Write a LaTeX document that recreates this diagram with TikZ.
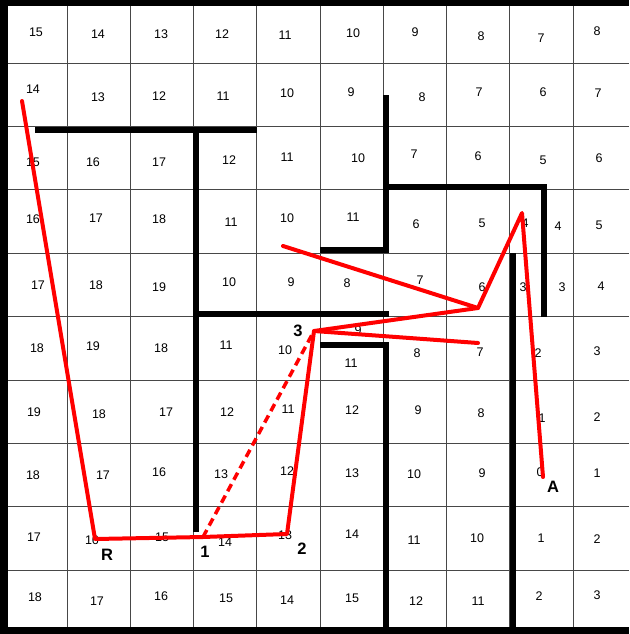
\documentclass[tikz,border=0pt]{standalone}
\usepackage{fontspec}
\setmainfont{Liberation Sans}
\begin{document}
\begin{tikzpicture}[x=1pt,y=-1pt,
  num/.style={inner sep=0pt,font=\fontsize{12.5}{13}\selectfont},
  lbl/.style={inner sep=0pt,font=\fontsize{16.5}{17}\selectfont\bfseries},
  gridline/.style={draw=black!72,line width=1pt},
  wall/.style={draw=black,line width=6pt,line join=miter},
  route/.style={draw=red,line width=4pt,line cap=round,line join=round},
  guess/.style={draw=red,line width=3.5pt,dash pattern=on 8pt off 5pt}]
\useasboundingbox (0,0) rectangle (629,634);
\begin{scope}
\clip (0,0) rectangle (629,634);
\fill[white] (0,0) rectangle (629,634);
% grid
\foreach \i in {1,...,9} {
  \draw[gridline] ({3.75+63.25*\i},0) -- ({3.75+63.25*\i},634);
  \draw[gridline] (0,{63.4*\i-0.3}) -- (629,{63.4*\i-0.3});
}
% numbers
\foreach \x/\y/\t [count=\k] in {
 36/32/15, 98/34/14, 161/34/13, 222/34/12, 285/35/11, 353/33/10, 415/32/9, 481/36/8, 541/38/7, 597/31/8,
 33/89/14, 98/97/13, 159/96/12, 223/96/11, 287/93/10, 351/92/9, 422/97/8, 479/92/7, 543/92/6, 598/93/7,
 33/162/15, 93/162/16, 159/162/17, 229/160/12, 287/157/11, 358/158/10, 414/154/7, 478/156/6, 543/160/5, 599/158/6,
 33/219/16, 96/218/17, 159/219/18, 231/222/11, 287/218/10, 353/217/11, 416/224/6, 482/223/5, 525/223/4, 558/226/4, 599/225/5,
 38/285/17, 96/285/18, 159/287/19, 229/282/10, 291/282/9, 347/283/8, 420/280/7, 482/287/6, 523/287/3, 562/287/3, 601/286/4,
 37/348/18, 93/346/19, 161/348/18, 226/345/11, 285/350/10, 358/330/9, 351/363/11, 417/353/8, 480/352/7, 538/353/2, 597/351/3,
 34/412/19, 99/414/18, 166/412/17, 227/412/12, 288/409/11, 352/410/12, 418/410/9, 481/413/8, 542/418/1, 597/417/2,
 33/475/18, 103/475/17, 159/472/16, 221/474/13, 287/471/12, 352/473/13, 414/474/10, 482/473/9, 540/472/0, 597/473/1,
 34/537/17, 92/540/16, 162/537/15, 225/542/14, 285/535/13, 352/534/14, 414/540/11, 477/538/10, 541/538/1, 597/539/2,
 35/597/18, 97/601/17, 161/596/16, 226/598/15, 287/600/14, 352/598/15, 416/601/12, 478/601/11, 539/596/2, 597/595/3}
  \node[num] (n\k) at (\x,\y) {\t};
% outer border
\fill[black] (0,0) rectangle (629,6);
\fill[black] (0,0) rectangle (8,634);
\fill[black] (0,627) rectangle (629,634);
% walls
\draw[wall] (35,130) -- (257,130);
\draw[wall] (196.3,127) -- (196.3,532);
\draw[wall] (196.3,313.5) -- (388.7,313.5);
\draw[wall] (320,344.5) -- (385.7,344.5) -- (385.7,634);
\draw[wall] (386,95) -- (386,250) -- (320,250);
\draw[wall] (383,187) -- (544,187) -- (544,317);
\draw[wall] (512.5,253.3) -- (512.5,634);
\end{scope}
% route points
\coordinate (s) at (22,101);
\coordinate (R) at (95,539);
\coordinate (p1) at (203,537);
\coordinate (p2) at (287,534);
\coordinate (p3) at (314,331);
\coordinate (q1) at (478,343);
\coordinate (q2) at (478,308);
\coordinate (q3) at (522,213);
\coordinate (A) at (543,477);
\coordinate (q4) at (283,246);
% red path
\draw[guess] (p1) -- (p3);
\draw[route] (s) -- (R) -- (p1) -- (p2) -- (p3) -- (q1);
\draw[route] (p3) -- (q2) -- (q3) -- (A);
\draw[route] (q4) -- (q2);
% labels
\node[lbl] (lR) at (107,555) {R};
\node[lbl] (l1) at (205,552) {1};
\node[lbl] (l2) at (302,549) {2};
\node[lbl] (l3) at (298,331) {3};
\node[lbl] (lA) at (553,487) {A};
\end{tikzpicture}
\end{document}
